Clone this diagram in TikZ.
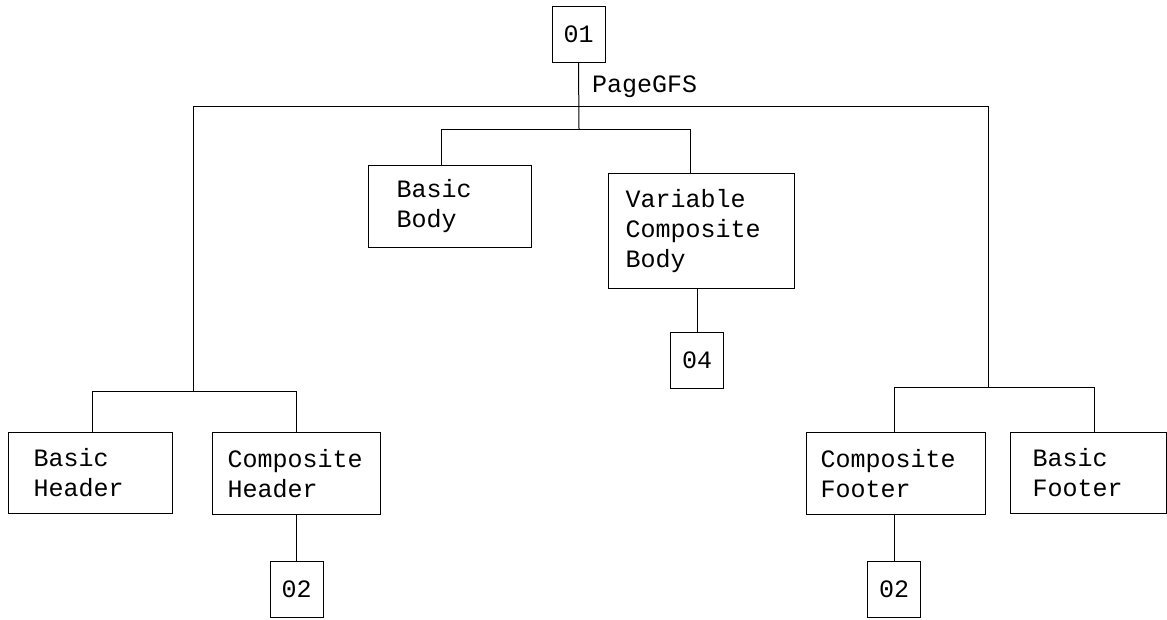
\documentclass[tikz,border=0pt]{standalone}
\usepackage{fontspec}
\newfontfamily\gfsfont{Liberation Mono}
\tikzset{
  gfsbox/.style={
    draw,
    line width=1pt,
    anchor=north west,
    align=left,
    inner ysep=0pt,
    font=\gfsfont\fontsize{25}{30}\selectfont,
  },
  refbox/.style={
    draw,
    line width=1pt,
    inner sep=0pt,
    minimum width=53,
    minimum height=56,
    font=\gfsfont\fontsize{25}{30}\selectfont,
  },
  link/.style={line width=1pt},
}

\begin{document}
\begin{tikzpicture}[x=1pt, y=-1pt]
            \useasboundingbox (0,0) rectangle (1167,619);

            % Reference boxes
            \node[refbox] (o1) at (578.5,34) {01};
            \node[refbox] (o4) at (697,360) {04};
            \node[refbox] (o2a) at (296.5,589.5) {02};
            \node[refbox] (o2b) at (894,589.5) {02};

            % Label of the group
            \node[anchor=west, inner sep=0pt, font=\gfsfont\fontsize{25}{30}\selectfont] (pgfs) at (592,87) {PageGFS};

            % Boxes
            \node[gfsbox, inner xsep=28, text width=107, minimum height=82] (bbody) at (368,165) {Basic\\Body};
            \node[gfsbox, inner xsep=17, text width=152, minimum height=115] (vbody) at (608,173) {Variable\\Composite\\Body};
            \node[gfsbox, inner xsep=25, text width=114, minimum height=81] (bhead) at (8,432) {Basic\\Header};
            \node[gfsbox, inner xsep=15, text width=138, minimum height=82] (chead) at (212,432) {Composite\\Header};
            \node[gfsbox, inner xsep=14, text width=151, minimum height=82] (cfoot) at (806,432) {Composite\\Footer};
            \node[gfsbox, inner xsep=22, text width=112, minimum height=81] (bfoot) at (1010,432) {Basic\\Footer};

            % Junction points
            \coordinate (jbody) at (579,129);
            \coordinate (jleft) at (193,106);
            \coordinate (jright) at (988,106);
            \coordinate (jhead) at (193,391);
            \coordinate (jfoot) at (988,387);
            \coordinate (tbbody) at (441,129);
            \coordinate (tvbody) at (690,129);
            \coordinate (tbhead) at (92,391);
            \coordinate (tchead) at (296,391);
            \coordinate (tcfoot) at (894,387);
            \coordinate (tbfoot) at (1094,387);

            % Connectors
            \draw[link] (o1.south) -- (jbody);
            \draw[link] (jleft) -- (jright);
            \draw[link] (tbbody) -- (tvbody);
            \draw[link] (tbbody) -- (tbbody |- bbody.north);
            \draw[link] (tvbody) -- (tvbody |- vbody.north);
            \draw[link] (vbody.south -| o4.north) -- (o4.north);

            \draw[link] (jleft) -- (jhead);
            \draw[link] (tbhead) -- (tchead);
            \draw[link] (tbhead) -- (tbhead |- bhead.north);
            \draw[link] (tchead) -- (tchead |- chead.north);
            \draw[link] (chead.south -| o2a.north) -- (o2a.north);

            \draw[link] (jright) -- (jfoot);
            \draw[link] (tcfoot) -- (tbfoot);
            \draw[link] (tcfoot) -- (tcfoot |- cfoot.north);
            \draw[link] (tbfoot) -- (tbfoot |- bfoot.north);
            \draw[link] (cfoot.south -| o2b.north) -- (o2b.north);
          \end{tikzpicture}
\end{document}
